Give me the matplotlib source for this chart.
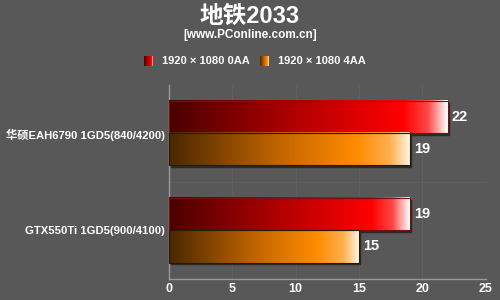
import numpy as np
import matplotlib.pyplot as plt
from matplotlib.colors import LinearSegmentedColormap
from matplotlib.patches import Rectangle

# --------------------------------------------------
# Data
# --------------------------------------------------
title = "地铁2033"
subtitle = "[www.PConline.com.cn]"
cards = ["华硕EAH6790 1GD5(840/4200)", "GTX550Ti 1GD5(900/4100)"]
series = ["1920 × 1080 0AA", "1920 × 1080 4AA"]
vals_0aa = [22, 19]
vals_4aa = [19, 15]
xticks = [0, 5, 10, 15, 20, 25]

bg = "#585858"
fam = ["Liberation Sans", "Noto Sans CJK SC", "DejaVu Sans"]
plt.rcParams['font.family'] = fam

red_cmap = LinearSegmentedColormap.from_list(
    "red", [(0, "#4a0000"), (0.45, "#b00000"), (0.84, "#ff0000"),
            (0.93, "#ff4848"), (1.0, "#ffffff")])
org_cmap = LinearSegmentedColormap.from_list(
    "org", [(0, "#4a2800"), (0.45, "#c06400"), (0.78, "#ff8c00"),
            (0.92, "#ffb050"), (1.0, "#fff4e0")])

fig = plt.figure(figsize=(5, 3), dpi=100, facecolor=bg)
ax = fig.add_axes([0.338, 0.07, 0.633, 0.647])
ax.set_facecolor(bg)

h = 0.33
grad = np.linspace(0, 1, 256).reshape(1, -1)
for i in range(len(cards)):
    for v, off, cmap, edge in [(vals_0aa[i], -h, red_cmap, "#7a1010"),
                               (vals_4aa[i], 0, org_cmap, "#2a1a00")]:
        y0 = i + off
        # shadow
        ax.add_patch(Rectangle((0.12, y0 + 0.02), v, h, color="#2a2a2a", zorder=2))
        ax.imshow(grad, cmap=cmap, aspect='auto', extent=[0, v, y0 + h, y0],
                  zorder=3, interpolation='bilinear')
        ax.add_patch(Rectangle((0, y0), v, h, fill=False, edgecolor=edge,
                               linewidth=0.8, zorder=4))
        ax.text(v + 0.35, y0 + h / 2, str(v), color="white", fontsize=10.5,
                fontweight='bold', va='center', ha='left', zorder=5)

ax.set_xlim(0, 25)
ax.set_ylim(1.5, -0.5)

for x in xticks[1:]:
    ax.axvline(x, color="#626262", linewidth=0.6, zorder=1)
ax.axhline(0.5, color="#606060", linewidth=0.6, zorder=1)

ax.set_xticks(xticks)
ax.set_xticklabels([str(t) for t in xticks], color="white", fontsize=9,
                   fontweight='bold')
ax.set_yticks(range(len(cards)))
ax.set_yticklabels(cards, color="white", fontsize=8.1, fontweight='bold')
ax.tick_params(length=0, pad=3)
for s in ["top", "right"]:
    ax.spines[s].set_visible(False)
for s in ["left", "bottom"]:
    ax.spines[s].set_color("#9a9a9a")
    ax.spines[s].set_linewidth(1.0)

# title and subtitle
fig.text(0.5, 0.945, title, color="white", fontsize=17, fontweight='heavy',
         ha='center', va='center')
fig.text(0.5, 0.883, subtitle, color="white", fontsize=8.5, fontweight='bold',
         ha='center', va='center')

# legend
leg_y = 0.797
for xs, xt, cmap, lab in [(0.287, 0.324, red_cmap, series[0]),
                          (0.520, 0.557, org_cmap, series[1])]:
    lax = fig.add_axes([xs, leg_y - 0.017, 0.018, 0.034])
    lax.imshow(grad, cmap=cmap, aspect='auto')
    lax.axis('off')
    fig.text(xt, leg_y, lab, color="white", fontsize=8, fontweight='bold',
             ha='left', va='center')

fig.savefig("out.png", dpi=100, facecolor=bg)
